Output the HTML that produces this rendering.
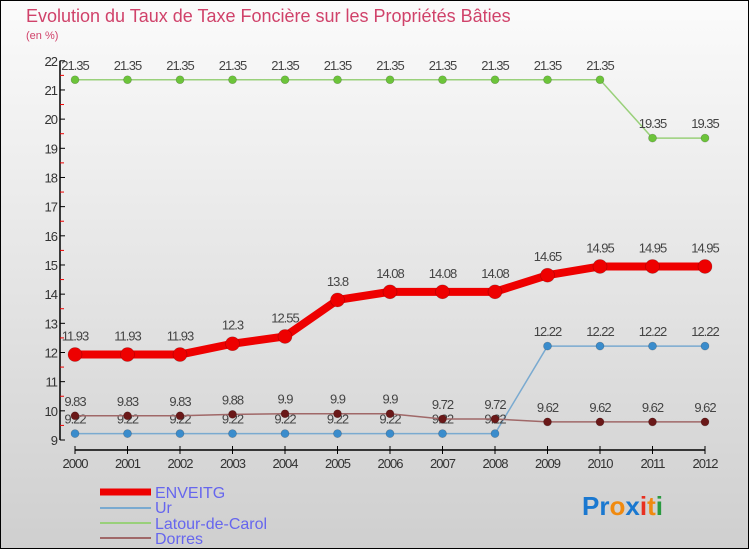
<!DOCTYPE html>
<html><head><meta charset="utf-8"><style>
body{margin:0;width:750px;height:550px;overflow:hidden;font-family:"Liberation Sans",sans-serif}
</style></head><body>
<svg width="750" height="550" xmlns="http://www.w3.org/2000/svg">
<defs><linearGradient id="bg" x1="0" y1="0" x2="0" y2="1"><stop offset="0" stop-color="#fbfbfb"/><stop offset="1" stop-color="#cfcfcf"/></linearGradient></defs>
<rect x="0.5" y="0.5" width="748" height="548" fill="url(#bg)" stroke="#000"/>
<text x="26" y="22" font-size="18" fill="#d0426a">Evolution du Taux de Taxe Foncière sur les Propriétés Bâties</text>
<text x="26" y="39" font-size="11" fill="#d0426a">(en %)</text>
<g id="axes"></g><g id="series"></g>
<g>
<line x1="100" y1="492" x2="151" y2="492" stroke="#ee0000" stroke-width="7"/>
<text x="155" y="498" font-size="16" fill="#6666ee">ENVEITG</text>
<line x1="100" y1="508" x2="151" y2="508" stroke="#7aaad0" stroke-width="2"/>
<text x="155" y="513" font-size="16" fill="#6666ee">Ur</text>
<line x1="100" y1="523" x2="151" y2="523" stroke="#99d07a" stroke-width="2"/>
<text x="155" y="529" font-size="16" fill="#6666ee">Latour-de-Carol</text>
<line x1="100" y1="538" x2="151" y2="538" stroke="#a06868" stroke-width="2"/>
<text x="155" y="544" font-size="16" fill="#6666ee">Dorres</text>
</g>
<text x="582" y="515" font-size="26" font-weight="bold"><tspan fill="#1a78d0">Pr</tspan><tspan fill="#f08a10">o</tspan><tspan fill="#1a78d0">x</tspan><tspan fill="#e83020">i</tspan><tspan fill="#f08a10">t</tspan><tspan fill="#2a9a40">i</tspan></text>
</svg>
<script>
const years=[2000,2001,2002,2003,2004,2005,2006,2007,2008,2009,2010,2011,2012];
const enveitg=[11.93,11.93,11.93,12.3,12.55,13.8,14.08,14.08,14.08,14.65,14.95,14.95,14.95];
const ur=[9.22,9.22,9.22,9.22,9.22,9.22,9.22,9.22,9.22,12.22,12.22,12.22,12.22];
const latour=[21.35,21.35,21.35,21.35,21.35,21.35,21.35,21.35,21.35,21.35,21.35,19.35,19.35];
const dorres=[9.83,9.83,9.83,9.88,9.9,9.9,9.9,9.72,9.72,9.62,9.62,9.62,9.62];
const yTicks=[9,10,11,12,13,14,15,16,17,18,19,20,21,22];
const NS="http://www.w3.org/2000/svg";
const X=i=>75+i*52.5;
const Y=v=>440-(v-9)*29.17;
function mk(tag,attrs,parent){const e=document.createElementNS(NS,tag);for(const k in attrs)e.setAttribute(k,attrs[k]);parent.appendChild(e);return e;}
const ax=document.getElementById('axes');
let l=mk('line',{x1:60,y1:Y(22),x2:60,y2:Y(9),stroke:'#000','stroke-width':1.5},ax);


yTicks.forEach((t,i)=>{
 mk('line',{x1:60,y1:Y(t),x2:65,y2:Y(t),stroke:'#000'},ax);
 const tx=mk('text',{x:57,y:Y(t)+5,'font-size':13,'text-anchor':'end',fill:'#333','letter-spacing':'-1'},ax);tx.textContent=t;
 
 
 if(i<yTicks.length-1)mk('line',{x1:60,y1:Y(t+0.5),x2:64,y2:Y(t+0.5),stroke:'#e00'},ax);
});
l=mk('line',{x1:X(0),y1:450,x2:X(years.length-1),y2:450,stroke:'#000','stroke-width':1.5},ax);


years.forEach((y,i)=>{
 mk('line',{x1:X(i),y1:446,x2:X(i),y2:454,stroke:'#000'},ax);
 const tx=mk('text',{x:X(i),y:468,'font-size':13,'text-anchor':'middle',fill:'#333','letter-spacing':'-1'},ax);tx.textContent=y;
 
 
});
const sg=document.getElementById('series');
function series(name,vals,color,w,r,dot,dy){
 const g=mk('g',{},sg);
 
 
 const p=mk('polyline',{points:vals.map((v,i)=>X(i)+','+Y(v)).join(' '),fill:'none',stroke:color,'stroke-width':w,'stroke-linejoin':'round'},g);
 
 
 vals.forEach((v,i)=>{
  const c=mk('circle',{cx:X(i),cy:Y(v),r:r,fill:dot,stroke:'rgba(0,0,0,0.25)','stroke-width':0.6},g);
  
  
  const t=mk('text',{x:X(i),y:Y(v)+dy,'font-size':13,'text-anchor':'middle',fill:'#444','letter-spacing':'-1'},g);t.textContent=v;
  
  
 });
}
series('latour-de-carol',latour,'#99d07a',1.5,4,'#6cc43a',-10);
series('ur',ur,'#7aaad0',1.5,4,'#3a8ccc',-10);
series('dorres',dorres,'#a06868',1.5,4,'#6a1818',-10);
series('enveitg',enveitg,'#ee0000',8,7,'#ee0000',-14);
</script>
</body></html>
